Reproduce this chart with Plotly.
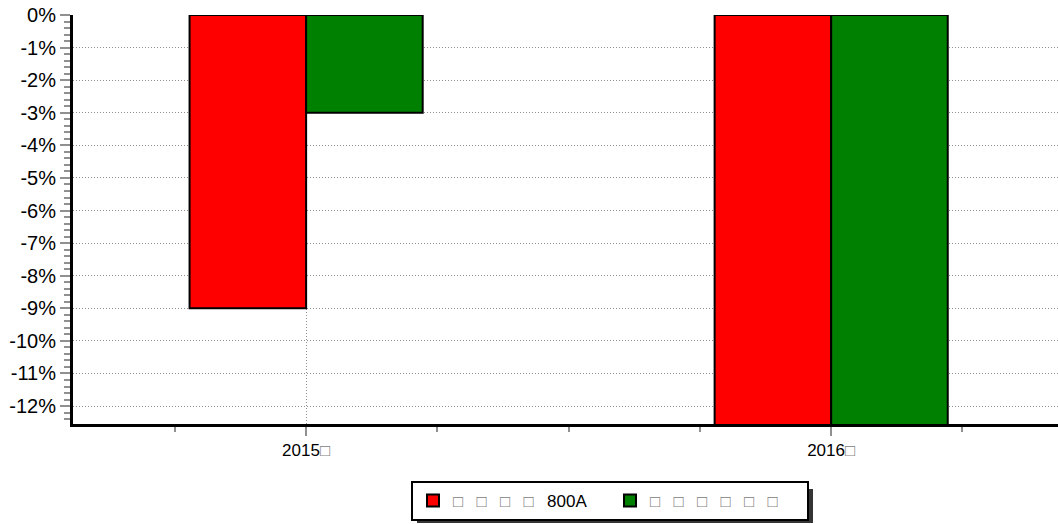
import plotly.graph_objects as go

categories = ["2015\u25a1", "2016\u25a1"]
series_names = ["\u25a1 \u25a1 \u25a1 \u25a1 800A", "\u25a1 \u25a1 \u25a1 \u25a1 \u25a1 \u25a1"]
red_values = [-9.0, -14.0]
green_values = [-3.0, -14.0]
colors = ["#ff0000", "#008000"]
y_tick_vals = [0, -1, -2, -3, -4, -5, -6, -7, -8, -9, -10, -11, -12]
y_tick_text = ["0%", "-1%", "-2%", "-3%", "-4%", "-5%", "-6%", "-7%", "-8%", "-9%", "-10%", "-11%", "-12%"]


def tofu(s, gap=True):
    box = "<span style='color:#808080'>\u25a1</span>"
    return s.replace("\u25a1 ", box + ("\u2002 " if gap else " ")).replace("\u25a1", box)


x_idx = list(range(len(categories)))
fig = go.Figure()
for name, vals, col in zip(series_names, [red_values, green_values], colors):
    fig.add_trace(go.Bar(x=x_idx, y=vals, name=tofu(name),
                         marker=dict(color=col, line=dict(color="black", width=2))))

W, H = 1058, 524
L, R, T, B = 73, 0, 15, 100
pw = W - L - R
ph = H - T - B

grid_dash = "1px,2px"
fig.update_layout(
    width=W, height=H,
    margin=dict(l=L, r=R, t=T, b=B, autoexpand=False),
    paper_bgcolor="white", plot_bgcolor="white",
    barmode="group", bargap=0.556, bargroupgap=0,
    font=dict(family="Liberation Sans, Arial, DejaVu Sans", size=18, color="black"),
    showlegend=True,
    legend=dict(orientation="h", x=(610 - L) / pw, xanchor="center", y=(424 - 481) / ph, yanchor="top",
                bordercolor="black", borderwidth=2, bgcolor="white",
                font=dict(size=17), entrywidth=152, entrywidthmode="pixels", tracegroupgap=0),
    xaxis=dict(range=[-0.444, 1.432], tickvals=x_idx, ticktext=[tofu(c, gap=False) for c in categories],
               automargin=False, tickfont=dict(size=17),
               showline=True, linecolor="black", linewidth=3,
               ticks="outside", ticklen=9, tickwidth=2, tickcolor="#909090",
               showgrid=True, gridcolor="#909090", griddash=grid_dash, gridwidth=1,
               zeroline=False,
               minor=dict(dtick=0.25, tick0=0, ticks="outside", ticklen=5, tickwidth=2,
                          tickcolor="#909090", showgrid=False)),
    yaxis=dict(range=[-12.55, 0], tickvals=y_tick_vals, ticktext=y_tick_text,
               automargin=False, tickfont=dict(size=20),
               showline=True, linecolor="black", linewidth=3,
               ticks="outside", ticklen=10, tickwidth=2, tickcolor="#909090",
               showgrid=True, gridcolor="#909090", griddash=grid_dash, gridwidth=1,
               zeroline=False,
               minor=dict(dtick=0.2, tick0=0, ticks="outside", ticklen=6, tickwidth=2,
                          tickcolor="#909090", showgrid=False)),
)

# legend drop shadow
fig.add_shape(type="rect", xref="paper", yref="paper",
              x0=(417 - L) / pw, x1=(813 - L) / pw,
              y0=(424 - 523) / ph, y1=(424 - 489) / ph,
              fillcolor="#353535", line=dict(width=0), layer="below")

fig.write_html("out.html", config={"displayModeBar": False},
               post_script="document.body.style.margin='0';document.body.style.overflow='hidden';")
